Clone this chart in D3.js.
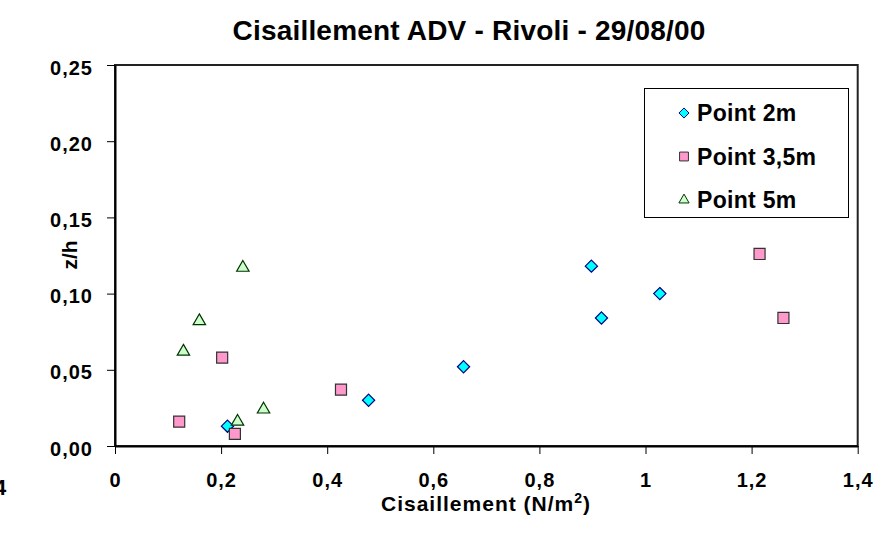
<!DOCTYPE html>
<html>
<head>
<meta charset="utf-8">
<script src="https://cdn.jsdelivr.net/npm/d3@7"></script>
<style>
  html, body { margin: 0; padding: 0; background: #fff; }
  svg { display: block; font-family: "Liberation Sans", Arial, sans-serif; font-weight: bold; }
</style>
</head>
<body>
<svg id="chart" width="882" height="534"></svg>
<script>
// ---- data ----
const seriesNames = ["Point 2m", "Point 3,5m", "Point 5m"];
const point2m_x = [0.212, 0.478, 0.657, 0.898, 0.917, 1.027];
const point2m_y = [0.013, 0.030, 0.052, 0.118, 0.084, 0.100];
const point35m_x = [0.121, 0.226, 0.202, 0.426, 1.215, 1.260];
const point35m_y = [0.016, 0.008, 0.058, 0.037, 0.126, 0.084];
const point5m_x = [0.241, 0.159, 0.129, 0.280, 0.231];
const point5m_y = [0.117, 0.082, 0.062, 0.024, 0.016];
const xTickValues = [0, 0.2, 0.4, 0.6, 0.8, 1, 1.2, 1.4];
const xTickLabels = ["0", "0,2", "0,4", "0,6", "0,8", "1", "1,2", "1,4"];
const yTickValues = [0, 0.05, 0.10, 0.15, 0.20, 0.25];
const yTickLabels = ["0,00", "0,05", "0,10", "0,15", "0,20", "0,25"];
const titleText = "Cisaillement ADV - Rivoli - 29/08/00";

const svg = d3.select("#chart");
const x = d3.scaleLinear().domain([0, 1.4]).range([115, 857.7]);
const y = d3.scaleLinear().domain([0, 0.25]).range([446, 65]);

// plot area frame
svg.append("rect")
  .attr("x", x(0)).attr("y", y(0.25))
  .attr("width", x(1.4) - x(0)).attr("height", y(0) - y(0.25))
  .attr("fill", "#fff").attr("stroke", "#222").attr("stroke-width", 2);

// axes
const xAxis = svg.append("g").attr("transform", `translate(0,${y(0)})`)
  .call(d3.axisBottom(x).tickValues(xTickValues)
    .tickFormat((d, i) => xTickLabels[i]).tickSizeInner(8).tickSizeOuter(0).tickPadding(19));
const yAxis = svg.append("g").attr("transform", `translate(${x(0)},0)`)
  .call(d3.axisLeft(y).tickValues(yTickValues)
    .tickFormat((d, i) => yTickLabels[i]).tickSizeInner(8).tickSizeOuter(0).tickPadding(14));
[xAxis, yAxis].forEach(g => {
  g.select(".domain").attr("stroke", "#000").attr("stroke-width", 2);
  g.selectAll(".tick line").attr("stroke", "#000").attr("stroke-width", 1);
  g.selectAll(".tick text").attr("fill", "#000")
    .style("font-family", '"Liberation Sans", Arial, sans-serif')
    .style("font-weight", "bold").style("font-size", "20px")
    .style("letter-spacing", "1px");
});
yAxis.selectAll(".tick text").attr("dy", "0.45em");

// title
svg.append("text").attr("x", 469).attr("y", 40).attr("text-anchor", "middle")
  .style("font-size", "28px").style("letter-spacing", "0.2px").text(titleText);

// axis titles
const xt = svg.append("text").attr("x", 486).attr("y", 511).attr("text-anchor", "middle")
  .style("font-size", "21px").style("letter-spacing", "1px");
xt.append("tspan").text("Cisaillement (N/m");
xt.append("tspan").attr("dy", -8).style("font-size", "14px").text("2");
xt.append("tspan").attr("dy", 8).text(")");

svg.append("text").attr("transform", "translate(77,255) rotate(-90)")
  .attr("text-anchor", "middle").style("font-size", "21px").text("z/h");

// stray label at left edge
svg.append("text").attr("x", -6).attr("y", 495).style("font-size", "22px").text("4");

// markers
const styles = [
  { sym: d3.symbolDiamond2, fill: "#00FFFF", stroke: "#000080", size: 95 },
  { sym: d3.symbolSquare2, fill: "#FF99CC", stroke: "#333333", size: 155 },
  { sym: d3.symbolTriangle2, fill: "#CCFFCC", stroke: "#003300", size: 110 }
];
const seriesX = [point2m_x, point35m_x, point5m_x];
const seriesY = [point2m_y, point35m_y, point5m_y];
[0, 1, 2].forEach(s => {
  const st = styles[s];
  const sym = d3.symbol().type(st.sym).size(st.size);
  svg.append("g").selectAll("path")
    .data(seriesX[s].map((vx, i) => [vx, seriesY[s][i]]))
    .join("path")
    .attr("d", sym)
    .attr("transform", d => `translate(${x(d[0])},${y(d[1])})`)
    .attr("fill", st.fill).attr("stroke", st.stroke).attr("stroke-width", 1.2);
});

// legend
const lg = svg.append("g");
lg.append("rect").attr("x", 644.5).attr("y", 88.5).attr("width", 204).attr("height", 129)
  .attr("fill", "#fff").attr("stroke", "#000").attr("stroke-width", 1);
const legendSizes = [65, 100, 75];
seriesNames.forEach((name, i) => {
  const cy = 113 + i * 43.5;
  lg.append("path").attr("d", d3.symbol().type(styles[i].sym).size(legendSizes[i]))
    .attr("transform", `translate(684,${cy})`)
    .attr("fill", styles[i].fill).attr("stroke", styles[i].stroke).attr("stroke-width", 1);
  lg.append("text").attr("x", 697).attr("y", cy + 8)
    .style("font-size", "23px").style("letter-spacing", "0.3px").text(name);
});
</script>
</body>
</html>
